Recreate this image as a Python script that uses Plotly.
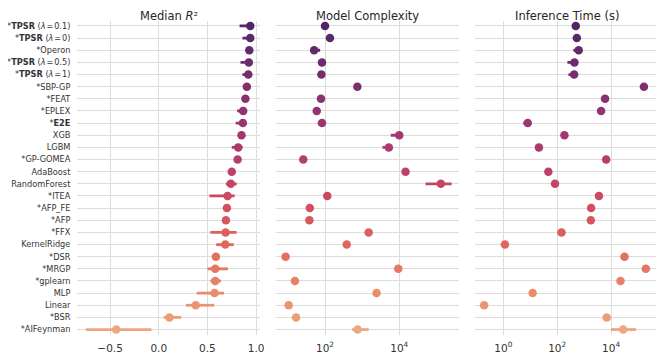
import plotly.graph_objects as go

# ---------------- data ----------------
methods = [
    "*<b>TPSR</b> (<i>λ</i>\u200a=\u200a0.1)", "*<b>TPSR</b> (<i>λ</i>\u200a=\u200a0)", "*Operon",
    "*<b>TPSR</b> (<i>λ</i>\u200a=\u200a0.5)", "*<b>TPSR</b> (<i>λ</i>\u200a=\u200a1)", "*SBP-GP", "*FEAT",
    "*EPLEX", "*<b>E2E</b>", "XGB", "LGBM", "*GP-GOMEA", "AdaBoost", "RandomForest",
    "*ITEA", "*AFP_FE", "*AFP", "*FFX", "KernelRidge", "*DSR", "*MRGP", "*gplearn",
    "MLP", "Linear", "*BSR", "*AIFeynman",
]

r2_med = [0.94, 0.94, 0.93, 0.925, 0.92, 0.905, 0.89, 0.867, 0.864, 0.85, 0.816, 0.81, 0.75,
          0.74, 0.707, 0.70, 0.69, 0.686, 0.683, 0.587, 0.58, 0.58, 0.573, 0.38, 0.11, -0.437]
r2_lo = [0.83, 0.86, 0.92, 0.84, 0.86, 0.87, 0.88, 0.805, 0.79, 0.84, 0.75, 0.80, 0.74,
         0.69, 0.52, 0.69, 0.68, 0.53, 0.59, 0.58, 0.50, 0.53, 0.39, 0.28, 0.05, -0.75]
r2_hi = [0.95, 0.95, 0.94, 0.94, 0.935, 0.93, 0.90, 0.88, 0.88, 0.86, 0.86, 0.82, 0.76,
         0.80, 0.78, 0.71, 0.70, 0.80, 0.77, 0.59, 0.71, 0.64, 0.67, 0.57, 0.23, -0.075]

cx_med = [100, 136, 51, 83, 80, 745, 78, 60, 83, 10000, 5250, 26, 14800,
          132000, 115, 39, 38, 1500, 385, 8.7, 9400, 15.5, 2450, 10.5, 16.6, 760]
cx_lo = [100, 136, 51, 83, 80, 745, 78, 60, 64, 5900, 3550, 26, 14800,
         51000, 115, 39, 38, 1500, 385, 8.7, 9400, 15.5, 2450, 10.5, 16.6, 540]
cx_hi = [100, 136, 74, 96, 93, 745, 78, 60, 83, 10000, 5250, 26, 14800,
         257000, 115, 39, 38, 1500, 385, 8.7, 9400, 15.5, 2450, 10.5, 16.6, 1500]

tm_med = [490, 537, 630, 437, 427, 166000, 6000, 4270, 8.1, 186, 21, 6600, 47,
          83, 3550, 1820, 1780, 145, 1.15, 31600, 195000, 22400, 12.3, 0.195, 6900, 28200]
tm_lo = [490, 537, 400, 240, 263, 166000, 6000, 4270, 5.5, 186, 21, 6600, 47,
         83, 3550, 1820, 1780, 145, 1.15, 31600, 195000, 22400, 12.3, 0.195, 6900, 10000]
tm_hi = [490, 537, 630, 437, 427, 166000, 6000, 4270, 8.1, 186, 21, 6600, 47,
         83, 3550, 1820, 1780, 145, 1.15, 31600, 282000, 22400, 12.3, 0.195, 6900, 85000]

panel_titles = ["Median <i>R</i>\u00b2", "Model Complexity", "Inference Time (s)"]
r2_ticks = [-0.5, 0.0, 0.5, 1.0]
r2_ticktext = ["\u22120.5", "0.0", "0.5", "1.0"]
cx_ticks = [100, 10000]
cx_ticktext = ["10<sup>2</sup>", "10<sup>4</sup>"]
tm_ticks = [1, 100, 10000]
tm_ticktext = ["10<sup>0</sup>", "10<sup>2</sup>", "10<sup>4</sup>"]

# ---------------- colours (flare-like ramp) ----------------
anchors = ["#edb081", "#e98d6b", "#e3685c", "#d14a61", "#b13c6c", "#8f3371", "#6c2b6d", "#4b2362"]


def hex2rgb(h):
    h = h.lstrip("#")
    return [int(h[i:i + 2], 16) for i in (0, 2, 4)]


def ramp(t):
    seg = t * (len(anchors) - 1)
    i = min(int(seg), len(anchors) - 2)
    f = seg - i
    a, b = hex2rgb(anchors[i]), hex2rgb(anchors[i + 1])
    c = [round(a[k] + (b[k] - a[k]) * f) for k in range(3)]
    return "rgb(%d,%d,%d)" % tuple(c)


n = len(methods)
colors = [ramp(1 - (i + 1) / (n + 1)) for i in range(n)]

# ---------------- figure ----------------
fig = go.Figure()
panels = [
    (r2_med, r2_lo, r2_hi, "x", "y"),
    (cx_med, cx_lo, cx_hi, "x2", "y2"),
    (tm_med, tm_lo, tm_hi, "x3", "y3"),
]
for med, lo, hi, xa, ya in panels:
    for i in range(n):
        fig.add_trace(go.Scatter(
            x=[med[i]], y=[i], xaxis=xa, yaxis=ya, mode="markers",
            marker=dict(size=8.5, color=colors[i], line=dict(width=0)),
            error_x=dict(type="data", symmetric=False,
                         array=[hi[i] - med[i]], arrayminus=[med[i] - lo[i]],
                         color=colors[i], thickness=2.8, width=0),
            showlegend=False, hoverinfo="skip",
        ))

W, H = 664, 359
OFF = 8  # page offset of the plot div
xdoms = [((77 - OFF) / W, (260 - OFF) / W), ((276 - OFF) / W, (459 - OFF) / W),
         ((475 - OFF) / W, (659 - OFF) / W)]
ydom = [1 - (335 - OFF) / H, 1 - (20.5 - OFF) / H]
grid_c = "#dcdcdc"
tickfont = dict(family="DejaVu Sans", size=10.5, color="#333333")

common_x = dict(showgrid=True, gridcolor=grid_c, gridwidth=1, zeroline=False,
                showline=False, ticks="outside", ticklen=3, tickcolor="rgba(0,0,0,0)",
                tickfont=tickfont, automargin=False)
fig.update_layout(
    xaxis=dict(domain=xdoms[0], range=[-0.84, 1.04], tickvals=r2_ticks,
               ticktext=r2_ticktext, anchor="y", **common_x),
    xaxis2=dict(domain=xdoms[1], type="log", range=[0.68, 5.61], tickvals=cx_ticks,
                ticktext=cx_ticktext, anchor="y2", **common_x),
    xaxis3=dict(domain=xdoms[2], type="log", range=[-1.05, 5.78], tickvals=tm_ticks,
                ticktext=tm_ticktext, anchor="y3", **common_x),
)
common_y = dict(domain=ydom, range=[n - 0.55, -0.45], tickvals=list(range(n)),
                showgrid=True, gridcolor=grid_c, gridwidth=1.2, zeroline=False,
                showline=False, automargin=False)
fig.update_layout(
    yaxis=dict(anchor="x", ticktext=methods, ticks="outside", ticklen=4,
               tickcolor="rgba(0,0,0,0)",
               tickfont=dict(family="DejaVu Sans", size=8.2, color="#333333"),
               **common_y),
    yaxis2=dict(anchor="x2", showticklabels=False, ticks="", **common_y),
    yaxis3=dict(anchor="x3", showticklabels=False, ticks="", **common_y),
)

for (d0, d1), t in zip(xdoms, panel_titles):
    fig.add_annotation(x=(d0 + d1) / 2, y=1 - 7.5 / H, xref="paper", yref="paper",
                       text=t, showarrow=False, xanchor="center", yanchor="middle",
                       font=dict(family="DejaVu Sans", size=11.5, color="#262626"))

fig.update_layout(
    width=W, height=H, margin=dict(l=0, r=0, t=0, b=0),
    paper_bgcolor="white", plot_bgcolor="white", template="none",
)

fig.write_html("out.html")
